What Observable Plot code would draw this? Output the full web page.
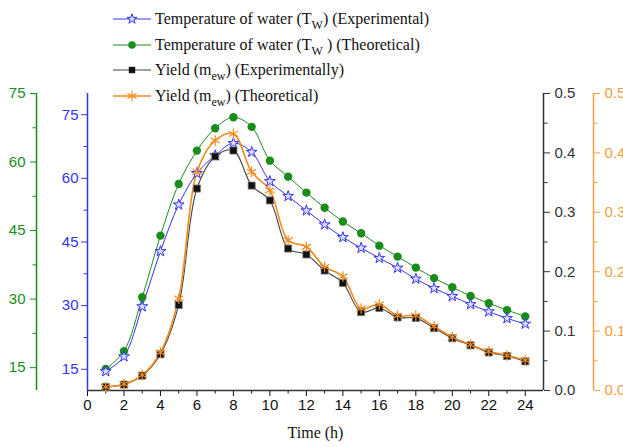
<!DOCTYPE html>
<html><head><meta charset="utf-8">
<script src="https://cdn.jsdelivr.net/npm/d3@7"></script>
<script src="https://cdn.jsdelivr.net/npm/@observablehq/plot@0.6"></script>
<style>
html,body{margin:0;padding:0;background:#fff;overflow:hidden;}
#wrap{position:relative;width:623px;height:447px;overflow:hidden;}
#legend{position:absolute;left:113px;top:6px;font-family:"Liberation Serif","Times New Roman",serif;font-size:16px;color:#111;z-index:2;}
.row{display:flex;align-items:center;height:25.7px;white-space:nowrap;}
.row svg{width:38px;height:20px;margin-right:4px;flex:none;overflow:visible}
sub{font-size:12px;vertical-align:-5px;line-height:0}
</style></head><body>
<div id="wrap"><div id="chart"></div><div id="legend"></div></div>
<script>
// ---- data ----
const hours = [1,2,3,4,5,6,7,8,9,10,11,12,13,14,15,16,17,18,19,20,21,22,23,24];
const tempExp = [14.5,18.0,29.8,42.8,53.8,61.2,65.4,68.3,66.2,59.3,55.8,52.4,49.1,46.1,43.6,41.2,38.9,36.3,34.1,32.2,30.3,28.6,27.0,25.7];
const tempTheo = [14.7,18.6,30.4,43.9,55.2,62.5,67.4,69.8,67.7,60.3,56.8,53.3,50.0,47.0,44.4,41.7,39.3,36.9,34.6,32.6,30.7,29.1,27.6,26.2];
const yieldExp = [0.006,0.010,0.025,0.061,0.144,0.340,0.394,0.404,0.345,0.320,0.239,0.229,0.202,0.181,0.132,0.139,0.123,0.122,0.105,0.088,0.076,0.064,0.058,0.049];
const yieldTheo = [0.006,0.011,0.026,0.064,0.155,0.368,0.421,0.432,0.368,0.337,0.253,0.242,0.208,0.192,0.138,0.145,0.126,0.126,0.108,0.090,0.077,0.066,0.059,0.051];
const xTicks = [0,2,4,6,8,10,12,14,16,18,20,22,24];
const xMinorTicks = [1,3,5,7,9,11,13,15,17,19,21,23];
const tempTicks = [15,30,45,60,75];
const tempMinorTicks = [22.5,37.5,52.5,67.5];
const yieldTicks = [0,0.1,0.2,0.3,0.4,0.5];
const yieldMinorTicks = [0.05,0.15,0.25,0.35,0.45];
const blueDomain = [10,80], greenDomain = [10,75], yieldDomain = [0,0.5];
const xDomain = [0,25];

const BLUE = "#3434f2", GREEN = "#1a8c1a", ORANGE = "#f28a1e", ORANGE_AX = "#f2a040", BLACK = "#111", DARK = "#333";

const norm = dom => v => (v - dom[0]) / (dom[1] - dom[0]);
const unnorm = dom => t => t * (dom[1] - dom[0]) + dom[0];
const bN = norm(blueDomain), gN = norm(greenDomain), yN = norm(yieldDomain);
const bU = unnorm(blueDomain), gU = unnorm(greenDomain), yU = unnorm(yieldDomain);

const rows = hours.map((h,i) => ({h, te: tempExp[i], tt: tempTheo[i], ye: yieldExp[i], yt: yieldTheo[i]}));

const fs = 15;
function yAxisSet(ticks, minor, n, u, fmt, anchor, dx, color, pad) {
  return [
    Plot.axisY(ticks.map(n), {anchor, dx, tickSize: 6, tickPadding: pad, fontSize: fs, color, label: null, tickFormat: d => fmt(u(d))}),
    Plot.axisY(minor.map(n), {anchor, dx, tickSize: 3.5, color, label: null, tickFormat: () => ""})
  ];
}

const chart = Plot.plot({
  width: 623, height: 447,
  marginTop: 93, marginBottom: 57, marginLeft: 87, marginRight: 80,
  style: {fontFamily: "'Liberation Sans', Arial, sans-serif", fontSize: "15px", background: "white", overflow: "visible"},
  x: {domain: xDomain},
  y: {domain: [0,1]},
  marks: [
    Plot.axisX(xTicks, {anchor: "bottom", tickSize: 6, tickPadding: 3, fontSize: fs, color: BLACK, label: null}),
    Plot.axisX(xMinorTicks, {anchor: "bottom", tickSize: 3.5, color: BLACK, label: null, tickFormat: () => ""}),
    ...yAxisSet(tempTicks, tempMinorTicks, bN, bU, d => Math.round(d), "left", 0, BLUE, 3),
    ...yAxisSet(tempTicks, tempMinorTicks, gN, gU, d => Math.round(d), "left", -51, GREEN, 5),
    ...yAxisSet(yieldTicks, yieldMinorTicks, yN, yU, d => d.toFixed(1), "right", 0, DARK, 5),
    ...yAxisSet(yieldTicks, yieldMinorTicks, yN, yU, d => d.toFixed(1), "right", 50, ORANGE_AX, 5),
    Plot.ruleY([0], {stroke: DARK, strokeWidth: 1.5}),
    Plot.ruleX([xDomain[0]], {stroke: BLUE, strokeWidth: 1.5}),
    Plot.ruleX([xDomain[0]], {dx: -51, stroke: GREEN, strokeWidth: 1.5}),
    Plot.ruleX([xDomain[1]], {stroke: DARK, strokeWidth: 1.5}),
    Plot.ruleX([xDomain[1]], {dx: 50, stroke: ORANGE_AX, strokeWidth: 1.5}),
    Plot.text(["Time (h)"], {frameAnchor: "bottom", dy: 47, fontFamily: "'Liberation Serif', 'Times New Roman', serif", fontSize: 16, fill: "#111"}),
    Plot.line(rows, {x: "h", y: d => gN(d.tt), curve: "catmull-rom", stroke: GREEN, strokeWidth: 1}),
    Plot.line(rows, {x: "h", y: d => bN(d.te), curve: "catmull-rom", stroke: BLUE, strokeWidth: 1}),
    Plot.line(rows, {x: "h", y: d => yN(d.ye), curve: "catmull-rom", stroke: "#444", strokeWidth: 1.1}),
    Plot.line(rows, {x: "h", y: d => yN(d.yt), curve: "catmull-rom", stroke: ORANGE, strokeWidth: 1.6}),
    Plot.dot(rows, {x: "h", y: d => gN(d.tt), r: 4.2, fill: GREEN, stroke: "none"}),
    Plot.dot(rows, {x: "h", y: d => bN(d.te), r: 3.4, symbol: "star", fill: "#dcdcff", stroke: BLUE, strokeWidth: 1}),
    Plot.dot(rows, {x: "h", y: d => yN(d.ye), r: 4, symbol: "square", fill: BLACK, stroke: "#777", strokeWidth: 0.8}),
    Plot.dot(rows, {x: "h", y: d => yN(d.yt), r: 5, symbol: "asterisk", stroke: ORANGE, strokeWidth: 1.2})
  ]
});
document.getElementById("chart").appendChild(chart);

// ---- legend ----
const legendItems = [
  {pre: "Temperature of water (T", sub: "W", post: ") (Experimental)", color: BLUE, sym: "star"},
  {pre: "Temperature of water (T", sub: "W", post: " ) (Theoretical)", color: GREEN, sym: "circle"},
  {pre: "Yield (m", sub: "ew", post: ") (Experimentally)", color: "#444", sym: "square"},
  {pre: "Yield (m", sub: "ew", post: ") (Theoretical)", color: ORANGE, sym: "asterisk"}
];
const symMap = {star: d3.symbolStar, circle: d3.symbolCircle, square: d3.symbolSquare, asterisk: d3.symbolAsterisk};
const leg = d3.select("#legend");
legendItems.forEach(it => {
  const row = leg.append("div").attr("class", "row");
  const svg = row.append("svg").attr("viewBox", "0 0 38 20");
  svg.append("line").attr("x1", 0).attr("x2", 38).attr("y1", 10).attr("y2", 10).attr("stroke", it.color).attr("stroke-width", it.sym === "asterisk" ? 1.6 : 1.2);
  const size = it.sym === "circle" ? Math.PI * 14 : it.sym === "square" ? Math.PI * 13 : it.sym === "star" ? Math.PI * 10 : Math.PI * 25;
  const p = svg.append("path").attr("transform", "translate(19,10)").attr("d", d3.symbol(symMap[it.sym], size)());
  if (it.sym === "asterisk") p.attr("fill", "none").attr("stroke", it.color).attr("stroke-width", 1.2);
  else if (it.sym === "star") p.attr("fill", "#dcdcff").attr("stroke", it.color);
  else if (it.sym === "square") p.attr("fill", BLACK);
  else p.attr("fill", it.color);
  const span = row.append("span");
  span.append("span").text(it.pre);
  span.append("sub").text(it.sub);
  span.append("span").text(it.post);
});
</script></body></html>
